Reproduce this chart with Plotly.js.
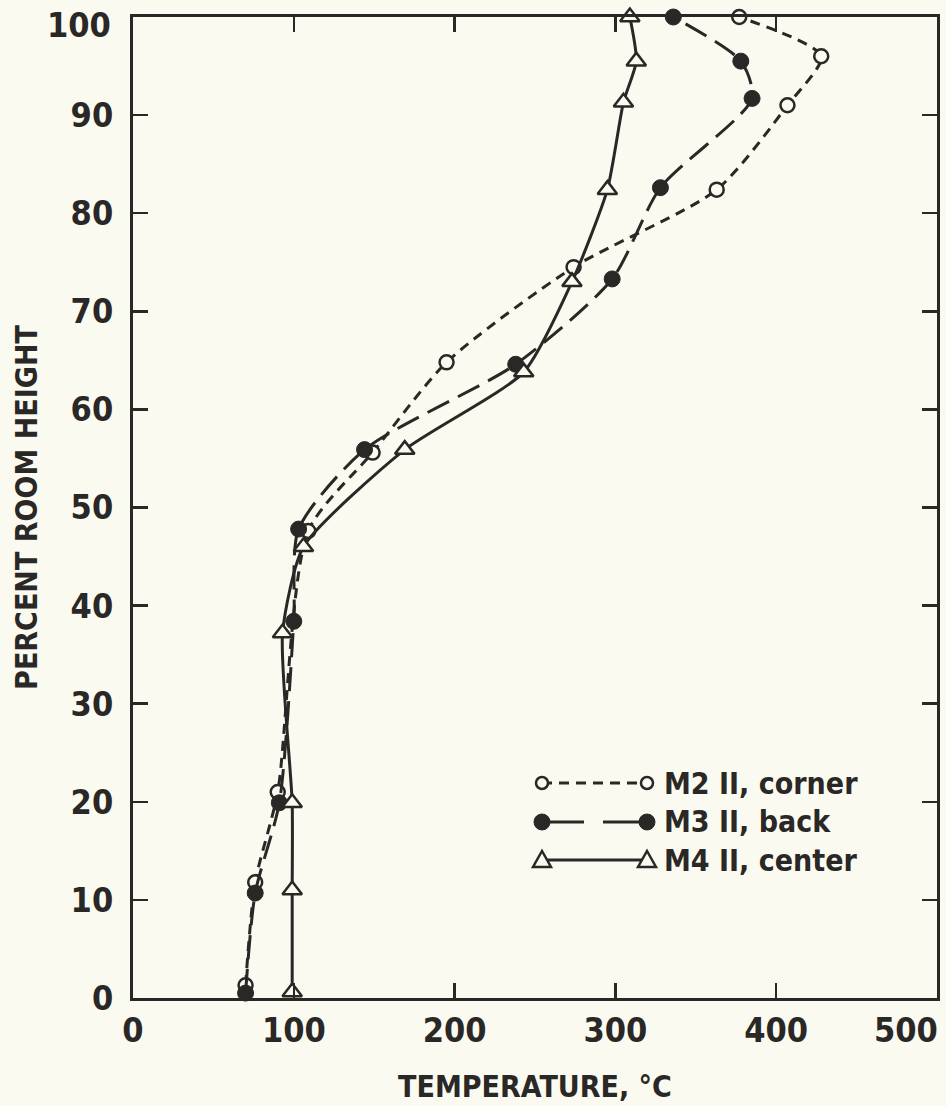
<!DOCTYPE html>
<html>
<head>
<meta charset="utf-8">
<script src="https://cdn.plot.ly/plotly-3.0.1.min.js"></script>
<style>
html,body{margin:0;padding:0;background:#fbfaf0;}
#chart{width:946px;height:1106px;}
</style>
</head>
<body>
<div id="chart"></div>
<script>
// Percent room height (y) vs temperature (x, °C)
const m2Height = [1.3, 11.8, 21.0, 47.6, 55.6, 64.8, 74.5, 82.4, 91.0, 96.0, 100];
const m2Temp   = [70, 76, 90, 109, 149, 195, 274, 363, 407, 428, 377];

const m3Height = [0.5, 10.7, 19.9, 38.4, 47.8, 55.9, 64.6, 73.3, 82.6, 91.7, 95.5, 100];
const m3Temp   = [70, 76, 91, 100, 103, 144, 238, 298, 328, 385, 378, 336];

const m4Height = [0.6, 11.0, 19.9, 37.2, 46.0, 55.9, 63.8, 73.0, 82.4, 91.3, 95.5, 100];
const m4Temp   = [99, 99, 99, 93, 106, 169, 243, 273, 295, 305, 313, 309];

const seriesNames = ["M2 II, corner", "M3 II, back", "M4 II, center"];
const xTicks = [0, 100, 200, 300, 400, 500];
const yTicks = [0, 10, 20, 30, 40, 50, 60, 70, 80, 90, 100];

const ink = "#2a2826";
const bg = "#fbfaf0";
const fontFam = "'Liberation Sans Narrow', 'DejaVu Sans Condensed', 'Arial Narrow', sans-serif";

const traces = [
  {x: m2Temp, y: m2Height, name: seriesNames[0], mode: "lines+markers",
   line: {color: ink, width: 3, dash: "10px,7px", shape: "spline", smoothing: 0.7},
   marker: {symbol: "circle", size: 14, color: bg, line: {color: ink, width: 2.5}},
   cliponaxis: false},
  {x: m3Temp, y: m3Height, name: seriesNames[1], mode: "lines+markers",
   line: {color: ink, width: 3, dash: "24px,10px", shape: "spline", smoothing: 0.7},
   marker: {symbol: "circle", size: 16, color: ink, line: {color: ink, width: 1}},
   cliponaxis: false},
  {x: m4Temp, y: m4Height, name: seriesNames[2], mode: "lines+markers",
   line: {color: ink, width: 3, shape: "spline", smoothing: 0.6},
   marker: {symbol: "triangle-up", size: 17, color: bg, line: {color: ink, width: 2.5}},
   cliponaxis: false}
];

// Legend drawn as decoration (paper coordinates)
const L = 133, R = 937, T = 17, B = 998;
const px = v => (v - L) / (R - L);
const py = v => (B - v) / (B - T);
const legRows = [783, 822, 860];
const lx0 = 542, lx1 = 647;
const shapes = [];
const annotations = [];
shapes.push({type: "line", xref: "paper", yref: "paper", x0: px(lx0), x1: px(lx1), y0: py(legRows[0]), y1: py(legRows[0]),
  line: {color: ink, width: 3, dash: "10px,7px"}});
shapes.push({type: "line", xref: "paper", yref: "paper", x0: px(lx0), x1: px(584), y0: py(legRows[1]), y1: py(legRows[1]),
  line: {color: ink, width: 3}});
shapes.push({type: "line", xref: "paper", yref: "paper", x0: px(603), x1: px(lx1), y0: py(legRows[1]), y1: py(legRows[1]),
  line: {color: ink, width: 3}});
shapes.push({type: "line", xref: "paper", yref: "paper", x0: px(lx0), x1: px(lx1), y0: py(legRows[2]), y1: py(legRows[2]),
  line: {color: ink, width: 3}});
[lx0, lx1].forEach(cx => {
  shapes.push({type: "circle", xref: "paper", yref: "paper", xsizemode: "pixel", ysizemode: "pixel",
    xanchor: px(cx), yanchor: py(legRows[0]), x0: -6, x1: 6, y0: -6, y1: 6,
    fillcolor: bg, line: {color: ink, width: 2.5}});
  shapes.push({type: "circle", xref: "paper", yref: "paper", xsizemode: "pixel", ysizemode: "pixel",
    xanchor: px(cx), yanchor: py(legRows[1]), x0: -8, x1: 8, y0: -8, y1: 8,
    fillcolor: ink, line: {color: ink, width: 1}});
  shapes.push({type: "path", xref: "paper", yref: "paper", xsizemode: "pixel", ysizemode: "pixel",
    xanchor: px(cx), yanchor: py(legRows[2]), path: "M -9 -7 L 9 -7 L 0 9 Z",
    fillcolor: bg, line: {color: ink, width: 2.5}});
});
seriesNames.forEach((n, i) => {
  annotations.push({xref: "paper", yref: "paper", x: px(662), y: py(legRows[i]), xanchor: "left", yanchor: "middle",
    text: "<b>" + n + "</b>", showarrow: false, font: {family: fontFam, size: 30, color: ink}});
});
// end tick labels placed inside the page, as in the original
annotations.push({xref: "paper", yref: "paper", x: 1.004, y: 0, yshift: -32, xanchor: "right", yanchor: "middle",
  text: "<b>" + xTicks[xTicks.length - 1] + "</b>", showarrow: false, font: {family: fontFam, size: 34, color: ink}});
annotations.push({xref: "paper", yref: "paper", x: 0, y: 1, xshift: -20, yshift: -8, xanchor: "right", yanchor: "middle",
  text: "<b>" + yTicks[yTicks.length - 1] + "</b>", showarrow: false, font: {family: fontFam, size: 34, color: ink}});

const layout = {
  width: 946, height: 1106,
  paper_bgcolor: bg, plot_bgcolor: bg,
  margin: {l: L, r: 946 - R, t: T, b: 1106 - B},
  showlegend: false,
  font: {family: fontFam, color: ink},
  xaxis: {
    range: [0, 500], tickvals: xTicks,
    ticktext: xTicks.map((v, i) => i === xTicks.length - 1 ? "" : "<b>" + v + "</b>"),
    ticks: "inside", ticklen: 15, tickwidth: 2.5, tickcolor: ink,
    showline: true, linecolor: ink, linewidth: 3, mirror: "ticks",
    showgrid: false, zeroline: false,
    tickfont: {family: fontFam, size: 34, color: ink},
    title: {text: "<b>TEMPERATURE, °C</b>", font: {family: fontFam, size: 30, color: ink}, standoff: 28}
  },
  yaxis: {
    range: [0, 100], tickvals: yTicks,
    ticktext: yTicks.map((v, i) => i === yTicks.length - 1 ? "" : "<b>" + v + "</b>"),
    ticks: "inside", ticklen: 15, tickwidth: 2.5, tickcolor: ink,
    showline: true, linecolor: ink, linewidth: 3, mirror: "ticks",
    showgrid: false, zeroline: false, ticklabelstandoff: 10,
    tickfont: {family: fontFam, size: 34, color: ink},
    title: {text: "<b>PERCENT ROOM HEIGHT</b>", font: {family: fontFam, size: 30, color: ink}, standoff: 25}
  },
  shapes: shapes,
  annotations: annotations
};

Plotly.newPlot("chart", traces, layout, {displayModeBar: false, staticPlot: true});
</script>
</body>
</html>
